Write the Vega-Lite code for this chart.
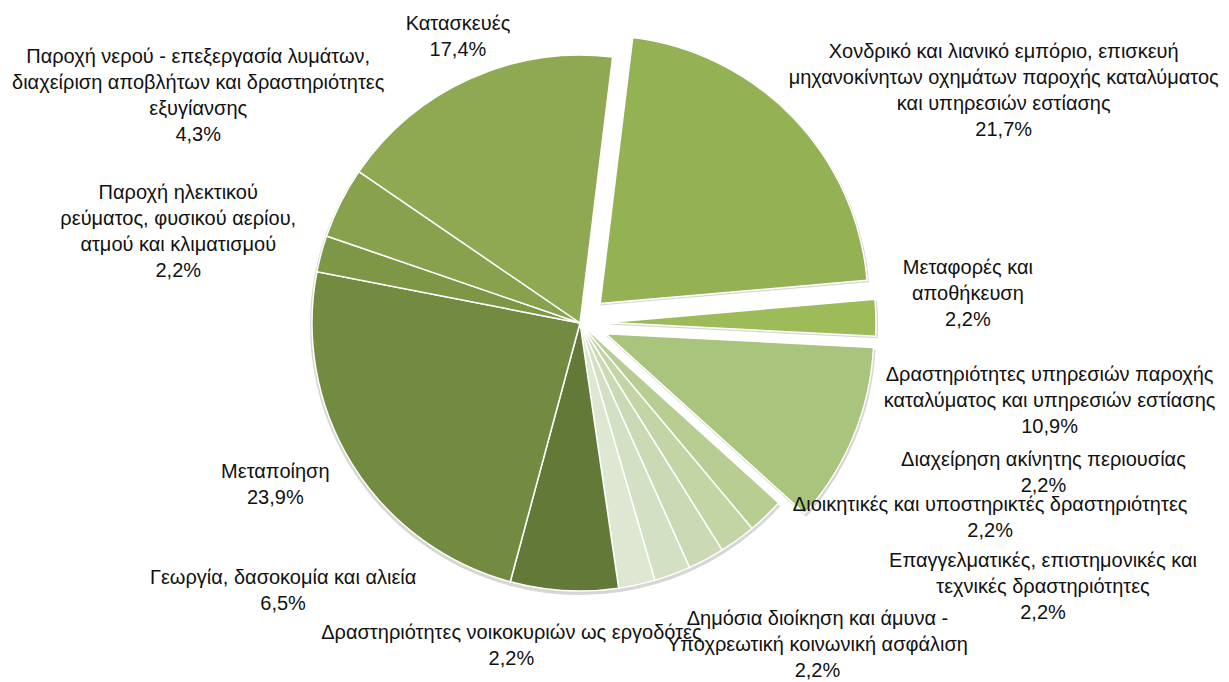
{
  "$schema": "https://vega.github.io/schema/vega-lite/v6.json",
  "width": 1160,
  "height": 646,
  "autosize": {"type": "none"},
  "padding": {"left": 0, "top": 0, "right": 69, "bottom": 36},
  "background": "white",
  "config": {"view": {"stroke": null}},
  "data": {
    "values": [
      {"order": 1, "category": "Χονδρικό και λιανικό εμπόριο, επισκευή μηχανοκίνητων οχημάτων παροχής καταλύματος και υπηρεσιών εστίασης", "lines": ["Χονδρικό και λιανικό εμπόριο, επισκευή", "μηχανοκίνητων οχημάτων παροχής καταλύματος", "και υπηρεσιών εστίασης"], "value": 21.7},
      {"order": 2, "category": "Μεταφορές και αποθήκευση", "lines": ["Μεταφορές και", "αποθήκευση"], "value": 2.2},
      {"order": 3, "category": "Δραστηριότητες υπηρεσιών παροχής καταλύματος και υπηρεσιών εστίασης", "lines": ["Δραστηριότητες υπηρεσιών παροχής", "καταλύματος και υπηρεσιών εστίασης"], "value": 10.9},
      {"order": 4, "category": "Διαχείρηση ακίνητης περιουσίας", "lines": ["Διαχείρηση ακίνητης περιουσίας"], "value": 2.2},
      {"order": 5, "category": "Διοικητικές και υποστηρικτές δραστηριότητες", "lines": ["Διοικητικές και υποστηρικτές δραστηριότητες"], "value": 2.2},
      {"order": 6, "category": "Επαγγελματικές, επιστημονικές και τεχνικές δραστηριότητες", "lines": ["Επαγγελματικές, επιστημονικές και", "τεχνικές δραστηριότητες"], "value": 2.2},
      {"order": 7, "category": "Δημόσια διοίκηση και άμυνα - Υποχρεωτική κοινωνική ασφάλιση", "lines": ["Δημόσια διοίκηση και άμυνα -", "Υποχρεωτική κοινωνική ασφάλιση"], "value": 2.2},
      {"order": 8, "category": "Δραστηριότητες νοικοκυριών ως εργοδότες", "lines": ["Δραστηριότητες νοικοκυριών ως εργοδότες"], "value": 2.2},
      {"order": 9, "category": "Γεωργία, δασοκομία και αλιεία", "lines": ["Γεωργία, δασοκομία και αλιεία"], "value": 6.5},
      {"order": 10, "category": "Μεταποίηση", "lines": ["Μεταποίηση"], "value": 23.9},
      {"order": 11, "category": "Παροχή ηλεκτικού ρεύματος, φυσικού αερίου, ατμού και κλιματισμού", "lines": ["Παροχή ηλεκτικού", "ρεύματος, φυσικού αερίου,", "ατμού και κλιματισμού"], "value": 2.2},
      {"order": 12, "category": "Παροχή νερού - επεξεργασία λυμάτων, διαχείριση αποβλήτων και δραστηριότητες εξυγίανσης", "lines": ["Παροχή νερού - επεξεργασία λυμάτων,", "διαχείριση αποβλήτων και δραστηριότητες", "εξυγίανσης"], "value": 4.3},
      {"order": 13, "category": "Κατασκευές", "lines": ["Κατασκευές"], "value": 17.4}
    ]
  },
  "transform": [
    {"stack": "value", "groupby": [], "sort": [{"field": "order", "order": "ascending"}], "as": ["v0", "v1"]}
  ],
  "layer": [
    {
      "mark": {
        "type": "arc",
        "outerRadius": 270,
        "color": "#000000",
        "opacity": 0.16,
        "x": {"expr": "width/2 + (datum.order <= 3 ? 28*sin(0.122 + PI*(datum.v0+datum.v1)/100.1) : 0)"},
        "y": {"expr": "height/2 + 2 - (datum.order <= 3 ? 28*cos(0.122 + PI*(datum.v0+datum.v1)/100.1) : 0)"}
      },
      "encoding": {
        "theta": {"field": "v0", "type": "quantitative", "scale": {"domain": [0, 100.1], "range": [0.122, 6.4052]}},
        "theta2": {"field": "v1"}
      }
    },
    {
      "mark": {
        "type": "arc",
        "outerRadius": 268,
        "stroke": "white",
        "strokeWidth": 1.5,
        "x": {"expr": "width/2 + (datum.order <= 3 ? 28*sin(0.122 + PI*(datum.v0+datum.v1)/100.1) : 0)"},
        "y": {"expr": "height/2 - (datum.order <= 3 ? 28*cos(0.122 + PI*(datum.v0+datum.v1)/100.1) : 0)"}
      },
      "encoding": {
        "theta": {"field": "v0", "type": "quantitative", "scale": {"domain": [0, 100.1], "range": [0.122, 6.4052]}},
        "theta2": {"field": "v1"},
        "color": {
          "field": "order",
          "type": "nominal",
          "scale": {
            "domain": [1, 2, 3, 4, 5, 6, 7, 8, 9, 10, 11, 12, 13],
            "range": ["#94b154", "#9dbb59", "#a9c47c", "#b8cd92", "#c3d5a5", "#cbd9b5", "#d4e0c4", "#dde7d1", "#637938", "#738b40", "#7d9746", "#87a14c", "#8fa952"]
          },
          "legend": null
        }
      }
    },
    {
      "mark": {
        "type": "text",
        "font": "Liberation Sans",
        "fontSize": 20,
        "lineHeight": 26,
        "align": "center",
        "baseline": "middle",
        "color": "#111111",
        "lineBreak": "\n",
        "dy": {"expr": "-13*length(datum.lines)"},
        "text": {"expr": "join(datum.lines, '\\n') + '\\n' + replace(format(datum.value, '.1f'), '.', ',') + '%'"}
      },
      "encoding": {
        "theta": {"field": "order", "type": "quantitative", "scale": {"type": "linear", "zero": false, "nice": false, "domain": [1, 2, 3, 4, 5, 6, 7, 8, 9, 10, 11, 12, 13], "range": [1.070, 1.496, 1.735, 1.883, 2.014, 2.089, 2.506, 3.351, 3.978, 4.224, 4.936, 5.248, 5.880]}},
        "radius": {"field": "order", "type": "quantitative", "scale": {"type": "linear", "zero": false, "nice": false, "domain": [1, 2, 3, 4, 5, 6, 7, 8, 9, 10, 11, 12, 13], "range": [483, 389, 476, 487, 454, 533, 400, 330, 400, 345, 412, 444, 311]}}
      }
    }
  ],
  "resolve": {"scale": {"theta": "independent"}}
}
